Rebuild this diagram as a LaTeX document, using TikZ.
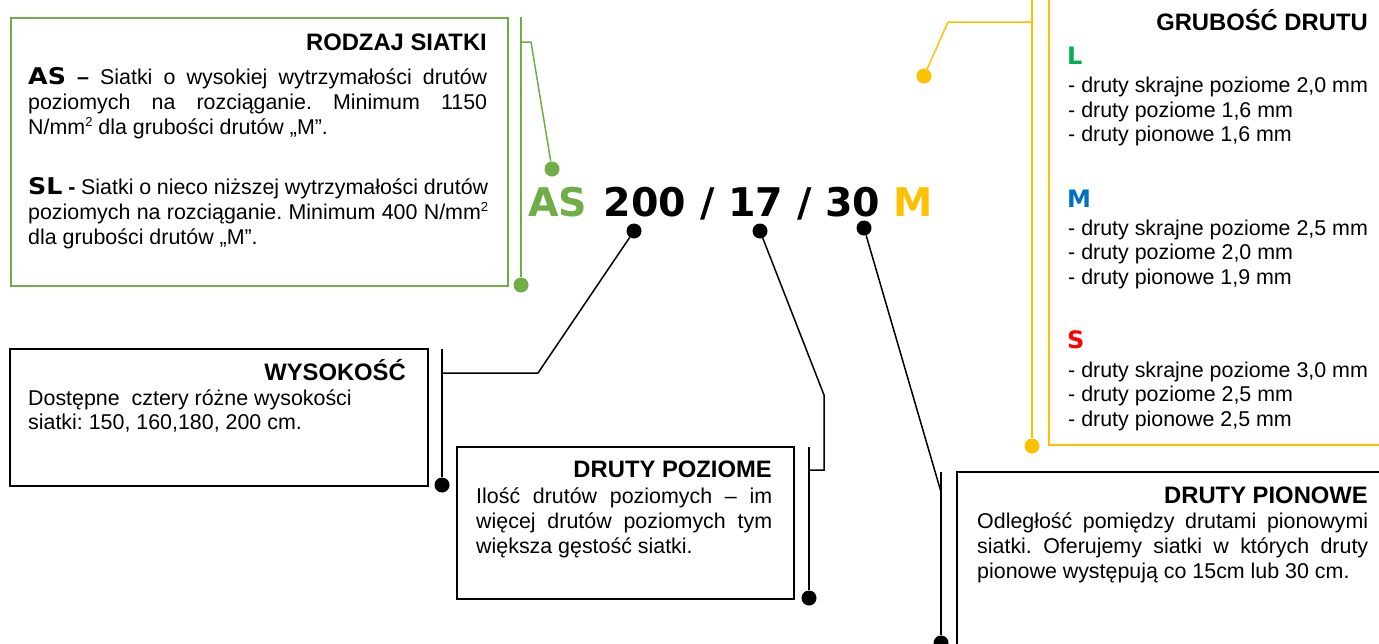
\documentclass[tikz,border=0pt]{standalone}
\usepackage{fontspec}
\setmainfont{Liberation Sans}
\newfontfamily\dvfont{DejaVu Sans}
\definecolor{agreen}{HTML}{70AD47}
\definecolor{ayellow}{HTML}{FFC000}
\definecolor{lgreen}{HTML}{00B050}
\definecolor{mblue}{HTML}{0070C0}
\definecolor{sred}{HTML}{FF0000}
\hyphenpenalty=10000
\exhyphenpenalty=10000
\frenchspacing
\newcommand\bodyf{\fontsize{21.4}{25}\selectfont}
\newcommand\headf{\fontsize{23.8}{28}\selectfont\bfseries}
\newcommand\bigw[1]{\scalebox{1.1}[1.0]{\dvfont\bfseries\fontsize{23}{21}\selectfont #1}}
\newcommand\letf{\dvfont\bfseries\fontsize{24}{25}\selectfont}
\newcommand\sqr{\raisebox{0.36em}{\fontsize{13}{13}\selectfont 2}}
\tikzset{
  para/.style={anchor=base west, inner sep=0, align=justify, font=\bodyf},
  headnode/.style={anchor=base east, inner sep=0, font=\headf},
  bline/.style={anchor=base west, inner sep=0, font=\bodyf},
  boxframe/.style={draw, line width=2pt, anchor=north west, inner sep=0},
  bdot/.style={circle, fill, inner sep=0, minimum size=15pt},
  conn/.style={line width=1.5pt},
}
\begin{document}
\begin{tikzpicture}[x=1pt,y=-1pt]
\useasboundingbox (0,0) rectangle (1379,643);
\clip (0,0) rectangle (1379,643);

% ---------- RODZAJ SIATKI ----------
\node[boxframe, draw=agreen, minimum width=497pt, minimum height=268pt] (rodzaj) at (10,17) {};
\node[headnode] (rodzajh) at (487,50) {RODZAJ SIATKI};
\node[para, text width=459pt] (asp) at (28,84) {\bigw{AS} \textbf{–} Siatki o wysokiej wytrzymałości drutów\linebreak poziomych na rozciąganie. Minimum 1150\linebreak N/mm\sqr{} dla grubości drutów „M”.};
\node[para, text width=460pt] (slp) at (28,194) {\bigw{SL} \textbf{-} Siatki o nieco niższej wytrzymałości drutów\linebreak poziomych na rozciąganie. Minimum 400 N/mm\sqr\linebreak dla grubości drutów „M”.};
\coordinate (gtop) at (521,17);
\coordinate (gtick) at (521,42);
\coordinate (gbend) at (531,42);
\node[bdot, fill=agreen] (gbot) at (521,285) {};
\node[bdot, fill=agreen] (gas) at (552,169) {};
\draw[conn, agreen] (gtop) -- (gbot);
\draw[conn, agreen] (gtick) -- (gbend) -- (gas);

% ---------- code ----------
\node[anchor=base west, inner sep=0, font=\dvfont\bfseries\fontsize{39.5}{40}\selectfont] (code) at (528,216) {\textcolor{agreen}{AS}\hspace{3pt} 200 / 17 / 30 \textcolor{ayellow}{M}};
\node[bdot] (d200) at (634,231) {};
\node[bdot] (d17) at (760,231) {};
\node[bdot] (d30) at (864,228) {};

% ---------- WYSOKOSC ----------
\node[boxframe, minimum width=418pt, minimum height=137pt] (wys) at (9,348) {};
\node[headnode] (wysh) at (406,380) {WYSOKOŚĆ};
\node[bline] (wys1) at (28,405) {Dostępne\ \ cztery różne wysokości};
\node[bline] (wys2) at (28,429) {siatki: 150, 160,180, 200 cm.};
\coordinate (wtop) at (442,349);
\coordinate (wjoin) at (442,373);
\coordinate (wbend) at (538,373);
\node[bdot] (wdot) at (442,485) {};
\draw[conn] (wtop) -- (wdot);
\draw[conn] (d200) -- (wbend) -- (wjoin);

% ---------- DRUTY POZIOME ----------
\node[boxframe, minimum width=337pt, minimum height=152pt] (poz) at (456,446) {};
\node[headnode] (pozh) at (772,477) {DRUTY POZIOME};
\node[para, text width=296pt] (pozp) at (476,503) {Ilość drutów poziomych – im\linebreak więcej drutów poziomych tym\linebreak większa gęstość siatki.};
\coordinate (ptop) at (809,447);
\coordinate (pjoin) at (809,470);
\coordinate (pcorner) at (824,470);
\coordinate (pbend) at (824,395);
\node[bdot] (pdot) at (809,598) {};
\draw[conn] (ptop) -- (pdot);
\draw[conn] (d17) -- (pbend) -- (pcorner) -- (pjoin);

% ---------- DRUTY PIONOWE ----------
\node[boxframe, minimum width=500pt, minimum height=250pt] (pion) at (956,471) {};
\node[headnode] (pionh) at (1368,503) {DRUTY PIONOWE};
\node[para, text width=391pt] (pionp) at (977,528) {Odległość pomiędzy drutami pionowymi\linebreak siatki. Oferujemy siatki w których druty\linebreak pionowe występują co 15cm lub 30 cm.};
\coordinate (vtop) at (941,472);
\coordinate (vjoin) at (941,492);
\node[bdot] (vdot) at (941,643) {};
\draw[conn] (vtop) -- (vdot);
\draw[conn] (d30) -- (vjoin);

% ---------- GRUBOSC DRUTU ----------
\node[boxframe, draw=ayellow, minimum width=500pt, minimum height=500pt, anchor=south west] (grub) at (1048,446) {};
\node[headnode] (grubh) at (1368,30) {GRUBOŚĆ DRUTU};
\node[anchor=base west, inner sep=0, font=\letf, text=lgreen] (lL) at (1067,64) {L};
\node[bline] (l1) at (1068,92.5) {- druty skrajne poziome 2,0 mm};
\node[bline] (l2) at (1068,117) {- druty poziome 1,6 mm};
\node[bline] (l3) at (1068,141.5) {- druty pionowe 1,6 mm};
\node[anchor=base west, inner sep=0, font=\letf, text=mblue] (lM) at (1067,207) {M};
\node[bline] (m1) at (1068,235) {- druty skrajne poziome 2,5 mm};
\node[bline] (m2) at (1068,259.5) {- druty poziome 2,0 mm};
\node[bline] (m3) at (1068,284) {- druty pionowe 1,9 mm};
\node[anchor=base west, inner sep=0, font=\letf, text=sred] (lS) at (1067,348) {S};
\node[bline] (s1) at (1068,377) {- druty skrajne poziome 3,0 mm};
\node[bline] (s2) at (1068,401.5) {- druty poziome 2,5 mm};
\node[bline] (s3) at (1068,426) {- druty pionowe 2,5 mm};
\coordinate (ytop) at (1032,-5);
\coordinate (yjoin) at (1032,22);
\coordinate (ybend) at (948,22);
\node[bdot, fill=ayellow] (ydot) at (1032,446) {};
\node[bdot, fill=ayellow] (ym) at (924,76) {};
\draw[conn, ayellow] (ytop) -- (ydot);
\draw[conn, ayellow] (yjoin) -- (ybend) -- (ym);
\end{tikzpicture}
\end{document}
